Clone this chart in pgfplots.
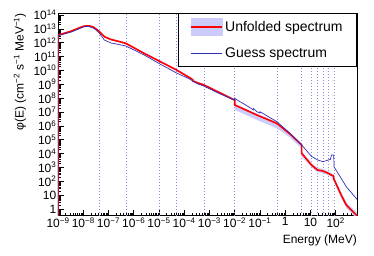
\documentclass[border=0pt]{standalone}
\usepackage{fontspec}
\setmainfont{Liberation Sans}
\usepackage{pgfplots}
\pgfplotsset{compat=1.18}
\definecolor{bandc}{RGB}{204,204,250}
\definecolor{guessc}{RGB}{45,45,185}
\definecolor{gridc}{RGB}{140,140,232}
\newcommand\minorx{}
\foreach \e in {-9,...,2}{\foreach \m in {2,...,9}{\xdef\minorx{\minorx\m e\e,}}}
\newcommand\minory{}
\foreach \e in {-1,...,13}{\foreach \m in {2,...,9}{\xdef\minory{\minory\m e\e,}}}
\begin{document}
\begin{tikzpicture}
\useasboundingbox (0,0) rectangle (374pt,255pt);
\begin{axis}[
  at={(58pt,39.5pt)}, anchor=south west,
  scale only axis, width=299pt, height=202.5pt,
  xmode=log, ymode=log,
  xmin=1e-9, xmax=700, ymin=0.34, ymax=1.39e14,
  axis line style={line width=0.7pt},
  tick align=inside, xtick pos=bottom, ytick pos=left,
  major tick length=6pt, minor tick length=3pt,
  tick style={black, line width=0.5pt},
  xtick={1e-9,1e-8,1e-7,1e-6,1e-5,1e-4,1e-3,1e-2,1e-1,1,10,100},
  xticklabels={10\textsuperscript{−9},10\textsuperscript{−8},10\textsuperscript{−7},10\textsuperscript{−6},10\textsuperscript{−5},10\textsuperscript{−4},10\textsuperscript{−3},10\textsuperscript{−2},10\textsuperscript{−1},1,10,10\textsuperscript{2}},
  ytick={1,10,1e2,1e3,1e4,1e5,1e6,1e7,1e8,1e9,1e10,1e11,1e12,1e13,1e14},
  yticklabels={1,10,10\textsuperscript{2},10\textsuperscript{3},10\textsuperscript{4},10\textsuperscript{5},10\textsuperscript{6},10\textsuperscript{7},10\textsuperscript{8},10\textsuperscript{9},10\textsuperscript{10},10\textsuperscript{11},10\textsuperscript{12},10\textsuperscript{13},10\textsuperscript{14}},
  minor xtick/.expanded={\minorx 2e3},
  minor ytick/.expanded={\minory 2e14},
  ticklabel style={font=\fontsize{12}{14}\selectfont},
  yticklabel style={inner sep=1.5pt},
  xticklabel style={inner sep=2pt},
  xlabel={Energy (MeV)},
  ylabel={φ(E) (cm\textsuperscript{−2} s\textsuperscript{−1} MeV\textsuperscript{−1})},
  xlabel style={at={(axis description cs:1,-0.121)}, anchor=east, inner sep=0pt, font=\fontsize{12}{14}\selectfont},
  ylabel style={at={(axis description cs:-0.127,1)}, anchor=east, inner sep=0pt, font=\fontsize{12}{14}\selectfont},
  legend style={at={(1,1)}, anchor=north east, draw=black, line width=0.7pt, fill=white,
    font=\fontsize{14}{16}\selectfont, inner xsep=12pt, inner ysep=5pt, row sep=10pt,
    cells={anchor=west}},
  legend cell align=left,
]
\pgfplotsinvokeforeach{4.2e-8,5.2e-7,1e-5,5e-5,6e-4,1e-2,0.47,4.5,11,19,32,53,86}{
  \addplot[forget plot, gridc, line width=0.5pt, dash pattern=on 1pt off 2pt] coordinates {(#1,0.34) (#1,1.39e14)};
}
% uncertainty band of the unfolded spectrum
\addplot[forget plot, fill=bandc, draw=none] coordinates {
(1e-9,4.0e12) (3.4e-9,7.9e12) (6.3e-9,1.26e13) (1.3e-8,1.9e13) (2.5e-8,1.55e13) (4.4e-8,7.1e12)
(6.9e-8,3.1e12) (1.26e-7,1.95e12) (4.9e-7,1.02e12) (2.6e-6,1.95e11) (1e-5,5.5e10) (5e-5,1.23e10)
(1.5e-4,3.8e9) (3.3e-4,1.5e9) (6e-4,1.07e9) (2.5e-3,3.0e8) (1e-2,8.6e7) (1e-2,4.0e7) (7.6e-2,7.6e6)
(0.47,1.9e6) (1.55,3.3e5) (4.5,5.3e4) (4.5,1.5e4) (11,2.1e3) (19,920) (31.6,780) (52,520) (68,400)
(85,195) (166,16) (263,3.1) (700,0.55)
(700,0.2) (263,1.23) (166,6.4) (85,87) (68,198) (52,262) (31.6,390) (19,460) (11,1.06e3)
(4.5,5.9e3) (4.5,2.36e4) (1.55,1.46e5) (0.47,6.7e5) (7.6e-2,2.68e6) (1e-2,1.43e7) (1e-2,6.0e7)
(2.5e-3,2.08e8) (6e-4,7.4e8) (3.3e-4,1.13e9) (1.5e-4,2.87e9) (5e-5,9.3e9) (1e-5,4.2e10)
(2.6e-6,1.48e11) (4.9e-7,7.75e11) (1.26e-7,1.48e12) (6.9e-8,2.35e12) (4.4e-8,5.4e12)
(2.5e-8,1.18e13) (1.3e-8,1.45e13) (6.3e-9,9.6e12) (3.4e-9,6.0e12) (1e-9,3.05e12)
} -- cycle;
% unfolded spectrum
\addplot[red, line width=1.6pt, line join=round,
  legend image code/.code={\fill[bandc] (0pt,-8pt) rectangle (31pt,8pt); \draw[red, line width=1.6pt] (0pt,0pt) -- (31pt,0pt);}]
coordinates {
(1e-9,0.01) (1e-9,3.5e12) (3.4e-9,6.9e12) (6.3e-9,1.1e13) (1.0e-8,1.5e13) (1.3e-8,1.66e13)
(1.8e-8,1.62e13) (2.5e-8,1.35e13) (3.3e-8,9.5e12) (4.4e-8,6.2e12) (6.9e-8,2.7e12) (1.26e-7,1.7e12)
(2.5e-7,1.25e12) (4.9e-7,8.9e11) (1.1e-6,4.0e11) (2.6e-6,1.7e11) (1.0e-5,4.8e10) (5.0e-5,1.07e10)
(1.5e-4,3.3e9) (2.2e-4,2.1e9) (2.2e-4,1.7e9) (3.3e-4,1.3e9) (6.0e-4,8.9e8) (2.5e-3,2.5e8)
(1.0e-2,7.2e7) (1.0e-2,3.2e7) (3.0e-2,1.3e7) (7.6e-2,6.0e6) (0.2,2.9e6) (0.47,1.5e6) (1.55,2.6e5)
(4.5,4.2e4) (4.5,1.05e4) (11,1.5e3) (19,650) (31.6,550) (52,370) (68,280) (80,260) (86,140)
(166,10.2) (263,1.95) (700,0.33)
};
\addlegendentry{Unfolded spectrum}
% guess spectrum
\addplot[guessc, line width=0.7pt,
  legend image code/.code={\draw[guessc, line width=0.7pt] (0pt,0pt) -- (31pt,0pt);}]
coordinates {
(1e-9,0.01) (1e-9,3.2e12) (3.4e-9,5.9e12) (6.3e-9,9.5e12) (1.0e-8,1.35e13) (1.3e-8,1.48e13)
(1.8e-8,1.42e13) (2.5e-8,1.15e13) (3.3e-8,8.0e12) (4.4e-8,4.7e12) (6.9e-8,1.55e12) (1.26e-7,9.5e11)
(2.5e-7,7.5e11) (4.9e-7,5.8e11) (1.1e-6,2.8e11) (2.6e-6,1.3e11) (1.0e-5,3.2e10) (5.0e-5,6.5e9)
(1.5e-4,2.6e9) (3.3e-4,1.1e9) (6.0e-4,7.4e8) (2.5e-3,2.1e8) (1.0e-2,7.2e7) (1.0e-2,1.0e8)
(1.3e-2,7.0e7) (3.0e-2,2.9e7) (5.5e-2,1.4e7) (5.5e-2,1.8e7) (7.6e-2,1.05e7) (0.1,8.5e6)
(0.1,1.05e7) (0.47,2.0e6) (1.55,2.9e5) (4.5,4.2e4) (11,6.3e3) (19,3.5e3) (31.6,2.6e3) (52,3.5e3)
(62,3.8e3) (68,7.9e3) (84,7.9e3) (86,1.1e3) (166,162) (263,41) (700,5.0)
};
\addlegendentry{Guess spectrum}
\end{axis}
\end{tikzpicture}
\end{document}
